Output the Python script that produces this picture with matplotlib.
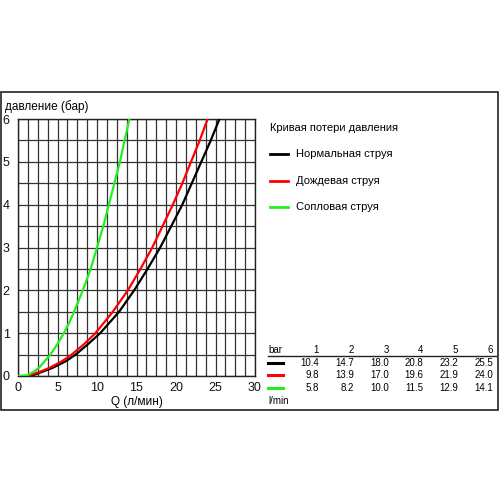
import numpy as np
import matplotlib
matplotlib.use('Agg')
import matplotlib.pyplot as plt
from matplotlib.patches import Rectangle
from matplotlib.lines import Line2D

plt.rcParams['font.family'] = ['Liberation Sans', 'DejaVu Sans']

# pressure values (bar)
p_pts = [0, 0.02, 0.1, 0.2, 0.35, 0.5, 0.75, 1, 1.25, 1.5, 2, 2.5, 3, 3.5, 4, 4.5, 5, 5.5, 6]
# flow (l/min) for each pressure
q_normal = [1.5, 1.9, 3.1, 4.5, 6.1, 7.3, 8.9, 10.4, 11.6, 12.8, 14.7, 16.4, 18.0, 19.4,
            20.8, 22.0, 23.2, 24.4, 25.5]
q_rain = [1.0, 1.4, 2.8, 4.1, 5.6, 6.8, 8.4, 9.8, 10.9, 12.0, 13.9, 15.5, 17.0, 18.3,
          19.6, 20.8, 21.9, 23.0, 24.0]
q_jet = [0.0, 1.2, 2.0, 2.7, 3.4, 4.1, 5.0, 5.8, 6.5, 7.1, 8.2, 9.2, 10.0, 10.8,
         11.5, 12.2, 12.9, 13.5, 14.1]

series_names = ['Нормальная струя', 'Дождевая струя', 'Сопловая струя']
series_colors = ['#000000', '#ff0000', '#22ee22']

table_bar = [1, 2, 3, 4, 5, 6]
table_rows = [
    [10.4, 14.7, 18.0, 20.8, 23.2, 25.5],
    [9.8, 13.9, 17.0, 19.6, 21.9, 24.0],
    [5.8, 8.2, 10.0, 11.5, 12.9, 14.1],
]

W, H = 500, 500
fig = plt.figure(figsize=(5, 5), dpi=100)


def fx(px):
    return px / W


def fy(py):
    return 1 - py / H


# outer frame
fig.patches.append(Rectangle((fx(1), fy(410)), fx(498) - fx(1), fy(92) - fy(410),
                             transform=fig.transFigure, fill=False,
                             edgecolor='#222222', lw=1.2))

ax = fig.add_axes([fx(18), fy(376), fx(255) - fx(18), fy(119) - fy(376)])
for q, c in zip([q_normal, q_rain, q_jet], series_colors):
    ax.plot(q, p_pts, color=c, lw=1.6, solid_capstyle='round',
            solid_joinstyle='round', zorder=3)

ax.set_xlim(0, 30)
ax.set_ylim(0, 6)
ax.set_xticks(np.arange(0, 31, 5))
ax.set_yticks(np.arange(0, 7, 1))
ax.set_xticks(np.arange(0, 30.01, 1.25), minor=True)
ax.set_yticks(np.arange(0, 6.01, 0.5), minor=True)
ax.grid(which='both', color='#333333', lw=0.9)
ax.tick_params(which='both', length=0, labelsize=9, colors='#111111')
ax.tick_params(axis='x', pad=4)
ax.tick_params(axis='y', pad=6)
for s in ax.spines.values():
    s.set_color('#222222')
    s.set_linewidth(1.0)

fig.text(fx(5), fy(107), 'давление (бар)', fontsize=8.5, va='center', ha='left')
fig.text(fx(137), fy(402), 'Q (л/мин)', fontsize=8.5, va='center', ha='center')

# legend
fig.text(fx(270), fy(128), 'Кривая потери давления', fontsize=8, va='center')
for i, (name, c) in enumerate(zip(series_names, series_colors)):
    yy = 154 + i * 26.5
    fig.add_artist(Line2D([fx(270), fx(288)], [fy(yy), fy(yy)], color=c, lw=2,
                          transform=fig.transFigure))
    fig.text(fx(296), fy(yy), name, fontsize=8, va='center')

# table
col_x = [319, 354, 389, 423, 458, 493]
fig.text(fx(268), fy(350), 'bar', fontsize=7, va='center')
for x, b in zip(col_x, table_bar):
    fig.text(fx(x), fy(350), str(b), fontsize=7, va='center', ha='right')
fig.add_artist(Line2D([fx(268), fx(496)], [fy(356), fy(356)], color='#222222', lw=1,
                      transform=fig.transFigure))
for i, (row, c) in enumerate(zip(table_rows, series_colors)):
    yy = 363 + i * 12.3
    fig.add_artist(Line2D([fx(268), fx(283)], [fy(yy), fy(yy)], color=c, lw=2.2,
                          transform=fig.transFigure))
    for x, v in zip(col_x, row):
        fig.text(fx(x), fy(yy), f'{v:.1f}', fontsize=7, va='center', ha='right')
fig.text(fx(268), fy(401), 'l/min', fontsize=7, va='center')

fig.savefig('out.png', dpi=100)
